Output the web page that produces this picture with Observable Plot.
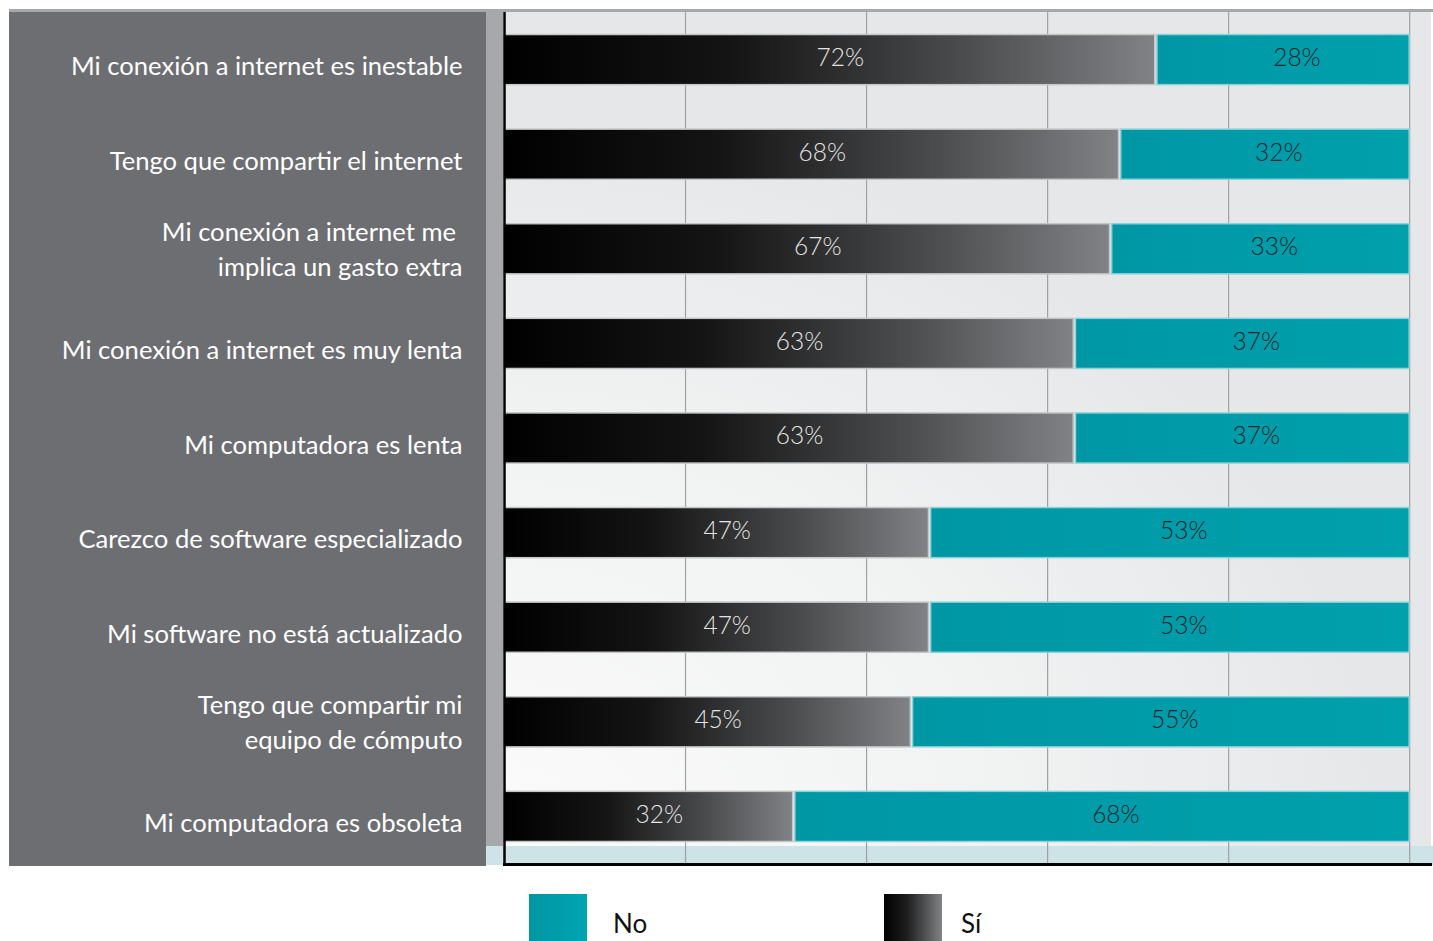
<!DOCTYPE html>
<html>
<head>
<meta charset="utf-8">
<script src="https://cdn.jsdelivr.net/npm/d3@7"></script>
<script src="https://cdn.jsdelivr.net/npm/@observablehq/plot@0.6"></script>
<style>
  body { margin: 0; background: #fff; font-family: Lato, "Open Sans", sans-serif; }
  #wrap { position: relative; width: 1433px; height: 941px; overflow: hidden; }
  .deco { position: absolute; }
  #chart { position: absolute; left: 0; top: 0; }
  .leg-sw { position: absolute; width: 58px; height: 50px; }
  .leg-tx { position: absolute; font-size: 26px; color: #111; font-family: Lato, sans-serif; }
</style>
</head>
<body>
<div id="wrap">
  <div class="deco" style="left:9px;top:9px;width:1424px;height:3px;background:#a7a8ac"></div>
  <div class="deco" style="left:9px;top:12px;width:477px;height:854px;background:#6d6e72"></div>
  <div class="deco" style="left:486px;top:12px;width:17px;height:834px;background:#a7a8ac"></div>
  <div class="deco" style="left:486px;top:846px;width:947px;height:19px;background:#cde3e7"></div>
  <div class="deco" style="left:504px;top:12px;width:927px;height:834px;background:radial-gradient(ellipse 120% 110% at 0% 100%, #fbfbfb 0%, #f1f2f2 45%, #e6e7e9 80%)"></div>
  <div id="chart"></div>
  <div class="leg-sw" style="left:529px;top:894px;background:linear-gradient(90deg,#0096a4,#00a5b2)"></div>
  <div class="leg-tx" style="left:613px;top:907px">No</div>
  <div class="leg-sw" style="left:884px;top:894px;background:linear-gradient(90deg,#000 0%,#1e1e1e 40%,#808285 100%)"></div>
  <div class="leg-tx" style="left:961px;top:907px">Sí</div>
</div>
<script>
const categories = [
  "Mi conexión a internet es inestable",
  "Tengo que compartir el internet",
  "Mi conexión a internet me \nimplica un gasto extra",
  "Mi conexión a internet es muy lenta",
  "Mi computadora es lenta",
  "Carezco de software especializado",
  "Mi software no está actualizado",
  "Tengo que compartir mi\nequipo de cómputo",
  "Mi computadora es obsoleta"
];
const siValues = [72, 68, 67, 63, 63, 47, 47, 45, 32];
const noValues = [28, 32, 33, 37, 37, 53, 53, 55, 68];
const gridTicks = [20, 40, 60, 80, 100];

const rows = categories.map((c, i) => ({cat: c, si: siValues[i], no: noValues[i]}));
const singleLine = categories.filter(c => !c.includes("\n"));
const multiLine = categories.filter(c => c.includes("\n"));

const axisOpts = {tickSize: 0, tickPadding: 42, fill: "#fff", fontSize: 25.6, lineHeight: 1.37, label: null};

const chart = Plot.plot({
  width: 1433,
  height: 866,
  marginLeft: 504,
  marginRight: 3,
  marginTop: 12,
  marginBottom: 2,
  style: {background: "transparent", fontFamily: "Lato, 'Open Sans', sans-serif"},
  x: {domain: [0, 102.3], axis: null},
  y: {domain: categories, paddingInner: 0.47, paddingOuter: 0.238, round: false, label: null},
  marks: [
    Plot.ruleX(gridTicks, {stroke: "#a0a1a3", strokeWidth: 1.2, strokeOpacity: 1}),
    Plot.barX(rows, {y: "cat", x1: 0, x2: "si", fill: "url(#siGrad)", stroke: "#c4c5c7", strokeWidth: 1.5, insetRight: 1}),
    Plot.barX(rows, {y: "cat", x1: "si", x2: d => d.si + d.no, fill: "url(#noGrad)", stroke: "#8fd3da", strokeWidth: 1.5, insetLeft: 1.2}),
    Plot.text(rows, {y: "cat", x: d => d.si / 2, text: d => d.si + "%", dx: 10, dy: -2, fill: "#e4e4e4", fontSize: 24.5, fontWeight: 300}),
    Plot.text(rows, {y: "cat", x: d => d.si + d.no / 2, text: d => d.no + "%", dx: 14, dy: -2, fill: "#1a2628", fontSize: 24.5, fontWeight: 300}),
    Plot.ruleX([0], {stroke: "#000", strokeWidth: 2.5}),
    Plot.frame({anchor: "bottom", stroke: "#000", strokeWidth: 3}),
    Plot.axisY({...axisOpts, ticks: singleLine, dy: 4}),
    Plot.axisY({...axisOpts, ticks: multiLine, dy: -2})
  ]
});

const svg = d3.select(chart);
const defs = svg.insert("defs", ":first-child");
const g1 = defs.append("linearGradient").attr("id", "siGrad").attr("x1", 0).attr("x2", 1).attr("y1", 0).attr("y2", 0);
g1.append("stop").attr("offset", "0%").attr("stop-color", "#000");
g1.append("stop").attr("offset", "35%").attr("stop-color", "#141414");
g1.append("stop").attr("offset", "70%").attr("stop-color", "#4a4b4d");
g1.append("stop").attr("offset", "100%").attr("stop-color", "#818285");
const g2 = defs.append("linearGradient").attr("id", "noGrad").attr("x1", 0).attr("x2", 1).attr("y1", 0).attr("y2", 0);
g2.append("stop").attr("offset", "0%").attr("stop-color", "#0097a5");
g2.append("stop").attr("offset", "100%").attr("stop-color", "#00a0ad");

document.getElementById("chart").appendChild(chart);
</script>
</body>
</html>
